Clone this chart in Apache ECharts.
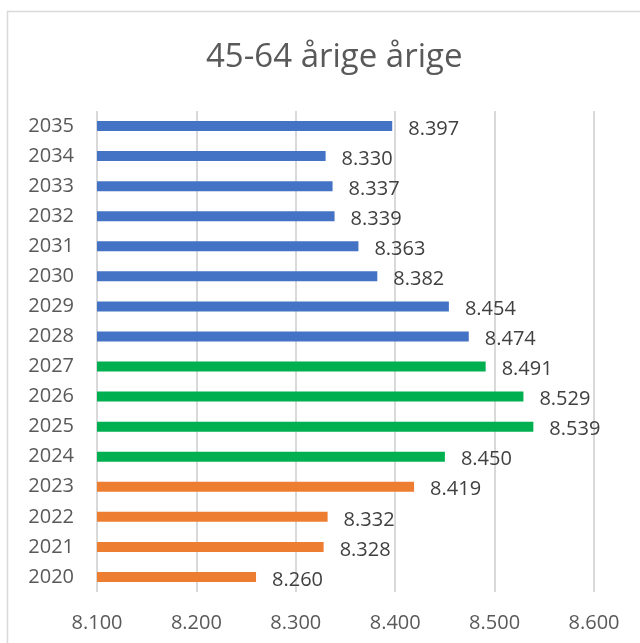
<!DOCTYPE html>
<html><head><meta charset="utf-8">
<script src="https://cdn.jsdelivr.net/npm/echarts@6/dist/echarts.min.js"></script>
<style>html,body{margin:0;padding:0;background:#fff}#c{width:640px;height:643px}</style>
</head><body><div id="c"></div>
<script>
const years = ['2020','2021','2022','2023','2024','2025','2026','2027','2028','2029','2030','2031','2032','2033','2034','2035'];
const values = [8260,8328,8332,8419,8450,8539,8529,8491,8474,8454,8382,8363,8339,8337,8330,8397];
const groups = ['o','o','o','o','g','g','g','g','b','b','b','b','b','b','b','b'];
const groupColors = {o:'#ED7D31', g:'#00B050', b:'#4472C4'};
const titleText = '45-64 årige årige';
const xMin = 8100, xMax = 8600, xStep = 100;

function fmt(v){ const s = String(Math.round(v)); return s.slice(0, s.length-3) + '.' + s.slice(-3); }

const chart = echarts.init(document.getElementById('c'));
chart.setOption({
  animation:false,
  backgroundColor:'#fff',
  graphic:[{type:'polyline', shape:{points:[[7.5,643],[7.5,11.5],[640,11.5]]}, style:{stroke:'#d9d9d9', lineWidth:1.5, fill:null}}],
  title:{text:titleText, left:201, top:36, textStyle:{fontFamily:'Open Sans', fontSize:33, fontWeight:'normal', color:'#595959'}},
  grid:{left:97, right:46, top:111, bottom:51, containLabel:false},
  xAxis:{type:'value', min:xMin, max:xMax, interval:xStep,
    axisLine:{show:false}, axisTick:{show:false},
    splitLine:{show:true, lineStyle:{color:'#d9d9d9', width:2}},
    axisLabel:{formatter:fmt, fontFamily:'Open Sans', fontSize:20, color:'#595959', margin:21}},
  yAxis:{type:'category', data:years,
    axisLine:{show:false}, axisTick:{show:false},
    axisLabel:{fontFamily:'Open Sans', fontSize:20, color:'#595959', margin:23}},
  series:[{type:'bar', barWidth:10,
    data: values.map((v,i)=>({value:v, itemStyle:{color:groupColors[groups[i]]}})),
    label:{show:true, position:'right', distance:16, offset:[0,3], formatter:p=>fmt(p.value), fontFamily:'Open Sans', fontSize:20, color:'#404040'}}]
});
</script></body></html>
